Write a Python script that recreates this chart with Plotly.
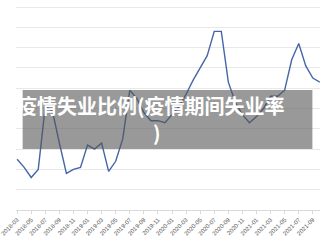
import plotly.graph_objects as go

months = [
    "2018-03", "2018-04", "2018-05", "2018-06", "2018-07", "2018-08", "2018-09", "2018-10",
    "2018-11", "2018-12", "2019-01", "2019-02", "2019-03", "2019-04", "2019-05", "2019-06",
    "2019-07", "2019-08", "2019-09", "2019-10", "2019-11", "2019-12", "2020-01", "2020-02",
    "2020-03", "2020-04", "2020-05", "2020-06", "2020-07", "2020-08", "2020-09", "2020-10",
    "2020-11", "2020-12", "2021-01", "2021-02", "2021-03", "2021-04", "2021-05", "2021-06",
    "2021-07", "2021-08", "2021-09", "2021-10",
]
values = [
    2.5, 2.1, 1.6, 2.0, 5.1, 4.9, 3.3, 1.8,
    2.0, 2.1, 3.2, 3.0, 3.3, 1.9, 2.4, 3.5,
    5.9, 5.5, 4.8, 4.4, 4.4, 4.3, 4.7, 5.1,
    5.7, 6.4, 7.0, 7.6, 8.8, 8.8, 6.3, 5.3,
    4.7, 4.3, 4.6, 5.0, 5.6, 5.6, 5.9, 7.4,
    8.2, 7.1, 6.5, 6.3,
]
tick_labels = months[::2]
title_line1 = "疫情失业比例(疫情期间失业率"
title_line2 = ")"

fig = go.Figure()
fig.add_trace(go.Scatter(
    x=months, y=values, mode="lines",
    line=dict(color="#4566a6", width=1.4),
    hoverinfo="skip",
))

fig.update_layout(
    width=320, height=240,
    margin=dict(l=0, r=0, t=0, b=30),
    paper_bgcolor="white", plot_bgcolor="white",
    showlegend=False,
    xaxis=dict(
        type="category",
        range=[-0.16, 43.02],
        tickmode="array", tickvals=tick_labels, ticktext=tick_labels,
        tickangle=-45,
        tickfont=dict(family="Liberation Sans", size=6, color="#555555"),
        showgrid=False,
        showline=True, linecolor="#d9d9d9", linewidth=1,
        ticks="outside", ticklen=3, tickcolor="#d9d9d9",
        zeroline=False,
    ),
    yaxis=dict(
        range=[0, 210 / 20.3],
        dtick=1, tick0=0,
        showticklabels=False,
        showgrid=True, gridcolor="#e8e8e8", gridwidth=1,
        zeroline=False, showline=False,
    ),
    shapes=[dict(
        type="rect", xref="paper", yref="paper",
        x0=7 / 320, x1=312 / 320, y0=1 - 149 / 210, y1=1 - 90 / 210,
        fillcolor="rgba(85,85,85,0.6)", line=dict(width=0), layer="above",
    )],
    annotations=[
        dict(
            text=title_line1, xref="paper", yref="paper",
            x=142 / 320, y=1 - 105 / 210, xanchor="center", yanchor="middle",
            showarrow=False,
            font=dict(family="Noto Sans CJK SC", size=20, color="white", weight="bold"),
        ),
        dict(
            text=title_line2, xref="paper", yref="paper",
            x=148 / 320, y=1 - 132 / 210, xanchor="center", yanchor="middle",
            showarrow=False,
            font=dict(family="Noto Sans CJK SC", size=20, color="white", weight="bold"),
        ),
    ],
)

fig.write_html("out.html")
